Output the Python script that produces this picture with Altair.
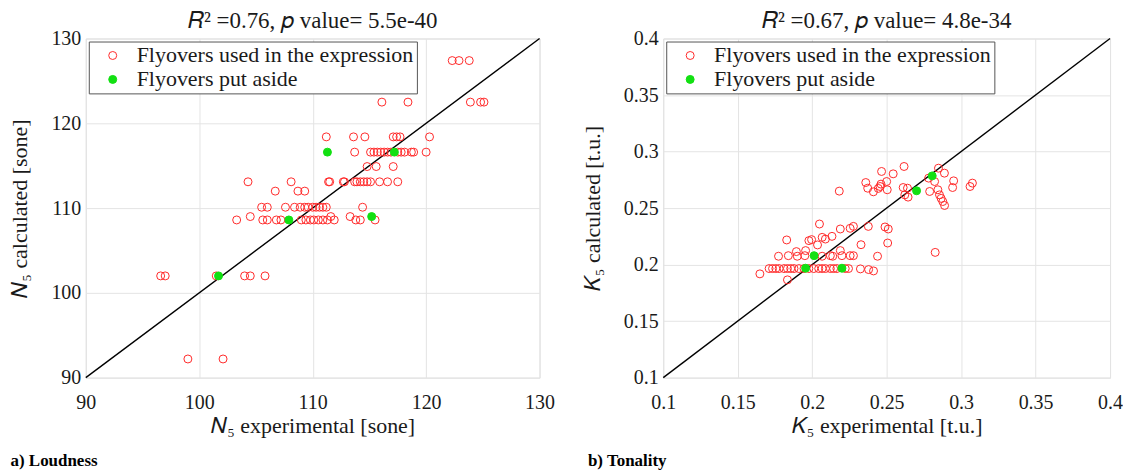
import altair as alt
import pandas as pd

FONT = "Liberation Serif"
LEG_USED = "Flyovers used in the expression"
LEG_ASIDE = "Flyovers put aside"

# ---------------- a) Loudness ----------------
loud_used_exp = [
    122.3, 122.9, 123.8,
    116.1, 118.4, 123.9, 124.8, 125.1,
    111.2, 113.6, 114.6, 117.1, 117.4, 117.7, 120.3,
    113.7, 115.1, 115.4, 115.7, 116.0, 116.3, 116.6, 116.9, 117.5, 117.8, 118.1, 118.7, 118.9, 120.0,
    114.8, 115.6, 117.1,
    104.3, 108.1, 111.4, 111.5, 112.7, 112.8, 113.7, 113.9, 114.2, 114.5, 114.8, 115.1, 115.9, 116.6, 117.5,
    106.7, 108.7, 109.3,
    105.5, 106.0, 107.6, 108.4, 108.9, 109.3, 109.6, 110.0, 110.3, 110.6, 110.9, 111.2, 114.4,
    103.3, 105.6, 106.0, 106.8, 107.2, 109.0, 109.4, 109.8, 110.1, 110.5, 110.9, 111.3, 111.9, 113.8, 114.2, 115.5,
    104.5, 111.6, 113.3,
    96.6, 97.0, 101.5, 104.0, 104.5, 105.8,
    99.0, 102.1,
]
loud_used_calc = (
    [127.4] * 3 + [122.5] * 5 + [118.4] * 7 + [116.6] * 14 + [114.9] * 3 + [113.1] * 15
    + [112.0] * 3 + [110.1] * 13 + [108.6] * 16 + [109.0] * 3 + [102.0] * 6 + [92.2] * 2
)
loud_aside_exp = [111.3, 117.2, 107.9, 115.2, 101.7]
loud_aside_calc = [116.6, 116.6, 108.6, 109.0, 102.0]
loud_ticks = [90, 100, 110, 120, 130]

# ---------------- b) Tonality ----------------
ton_used_exp = [
    0.2617, 0.2466, 0.2544, 0.2848, 0.2888, 0.2782, 0.2822, 0.2950, 0.2943, 0.3076, 0.3060,
    0.2360, 0.2373, 0.2411, 0.2444, 0.2462, 0.2500, 0.2456, 0.2504, 0.2182, 0.2611, 0.2640,
    0.2622, 0.2644, 0.2789, 0.2844, 0.2855, 0.2866, 0.2877, 0.2889, 0.2826,
    0.2049, 0.2189, 0.2255, 0.2277, 0.2377, 0.2489, 0.2511, 0.1829, 0.1978, 0.1996, 0.2067,
    0.2089, 0.2133, 0.2036, 0.2507, 0.2328, 0.1894, 0.1956, 0.1951, 0.1774, 0.1840, 0.1900,
    0.2067, 0.2122, 0.2138, 0.2189, 0.2200, 0.2255, 0.2277, 0.2439,
    0.1711, 0.1734, 0.1756, 0.1778, 0.1811, 0.1834, 0.1856, 0.1878, 0.1911, 0.1945,
    0.1978, 0.2011, 0.2044, 0.2067, 0.2089, 0.2122, 0.2144, 0.2166, 0.2222, 0.2244,
    0.2324, 0.2379, 0.2412, 0.1649, 0.1834,
]
ton_used_calc = [
    0.2868, 0.2824, 0.2803, 0.2853, 0.2809, 0.2765, 0.2735, 0.2741, 0.2682, 0.2721, 0.2691,
    0.2726, 0.2676, 0.2644, 0.2674, 0.2712, 0.2735, 0.2691, 0.2662, 0.2650, 0.2682, 0.2676,
    0.2617, 0.2597, 0.2647, 0.2662, 0.2617, 0.2586, 0.2558, 0.2523, 0.2108,
    0.2359, 0.2315, 0.2321, 0.2338, 0.2338, 0.2333, 0.2315, 0.2218, 0.2212, 0.2221, 0.2241,
    0.2226, 0.2250, 0.2174, 0.2191, 0.2176, 0.2115, 0.2124, 0.2079, 0.2074, 0.2079, 0.2074,
    0.2074, 0.2079, 0.2074, 0.2124, 0.2079, 0.2079, 0.2079, 0.2074,
] + [0.1965] * 20 + [0.1962, 0.1956, 0.1944, 0.1918, 0.1865]
ton_aside_exp = [0.2806, 0.2701, 0.2013, 0.1956, 0.2200]
ton_aside_calc = [0.2785, 0.2653, 0.2079, 0.1968, 0.1968]
ton_ticks = [0.1, 0.15, 0.2, 0.25, 0.3, 0.35, 0.4]

RED = "#ff2b2b"
GREEN = "#12e012"
TXT = "#1a1a1a"


def panel(used_x, used_y, aside_x, aside_y, lo, hi, ticks, fmt, xtitle, ytitle, title, caption, w, cap_dx):
    df = pd.DataFrame({
        "exp": used_x + aside_x,
        "calc": used_y + aside_y,
        "g": [LEG_USED] * len(used_x) + [LEG_ASIDE] * len(aside_x),
    })
    df["o"] = range(len(df))
    diag_df = pd.DataFrame({"exp": [lo, hi], "calc": [lo, hi]})

    sx = alt.Scale(domain=[lo, hi], nice=False, zero=False)
    sy = alt.Scale(domain=[lo, hi], nice=False, zero=False)
    ax_common = dict(
        values=ticks, format=fmt, labelFont=FONT, labelFontSize=20, labelColor=TXT,
        titleFont=FONT, titleFontSize=22, titleFontWeight="normal", titleColor=TXT,
        grid=True, gridColor="#e4e4e4", ticks=False, domain=False, labelFlush=False,
    )
    xax = alt.Axis(title=xtitle, labelPadding=15, titlePadding=3, **ax_common)
    yax = alt.Axis(title=ytitle, labelPadding=5, titlePadding=19, **ax_common)

    leg = alt.Legend(
        title=None, orient="top-left", offset=3, fillColor="white", strokeColor="#555",
        padding=3, rowPadding=2, symbolType="circle", symbolSize=64, symbolStrokeWidth=1,
        symbolOffset=10, labelOffset=13, labelFont=FONT, labelFontSize=22, labelColor=TXT,
        labelLimit=500,
    )
    dom = [LEG_USED, LEG_ASIDE]

    diag = alt.Chart(diag_df).mark_line(color="black", strokeWidth=1.4).encode(
        x=alt.X("exp:Q", scale=sx, axis=xax),
        y=alt.Y("calc:Q", scale=sy, axis=yax),
    )
    pts = alt.Chart(df).mark_point(shape="circle", size=64, strokeWidth=1, opacity=1).encode(
        x=alt.X("exp:Q", scale=sx, axis=xax),
        y=alt.Y("calc:Q", scale=sy, axis=yax),
        stroke=alt.Stroke("g:N", scale=alt.Scale(domain=dom, range=[RED, GREEN]), legend=leg),
        fill=alt.Fill("g:N", scale=alt.Scale(domain=dom, range=["transparent", GREEN]), legend=leg),
        order=alt.Order("o:Q"),
    )
    layer = alt.layer(diag, pts).properties(
        width=w, height=340,
        title=alt.TitleParams(title, font=FONT, fontSize=23, fontWeight="normal", color=TXT,
                              offset=-4, frame="group"),
    )
    return alt.vconcat(layer).properties(
        title=alt.TitleParams(caption, orient="bottom", anchor="start", font=FONT, fontSize=17,
                              fontWeight="bold", color="black", offset=16, dx=cap_dx)
    ).resolve_scale(stroke="independent", fill="independent").resolve_legend(
        stroke="independent", fill="independent")


left = panel(loud_used_exp, loud_used_calc, loud_aside_exp, loud_aside_calc, 90, 130, loud_ticks, "d",
             "𝑁₅ experimental [sone]", "𝑁₅ calculated [sone]",
             "𝑅² =0.76, 𝑝 value= 5.5e-40", "a) Loudness", 455, 2)
right = panel(ton_used_exp, ton_used_calc, ton_aside_exp, ton_aside_calc, 0.1, 0.4, ton_ticks, "~g",
              "𝐾₅ experimental [t.u.]", "𝐾₅ calculated [t.u.]",
              "𝑅² =0.67, 𝑝 value= 4.8e-34", "b) Tonality", 448, 7)

chart = alt.hconcat(left, right, spacing=25).resolve_scale(
    stroke="independent", fill="independent").resolve_legend(
    stroke="independent", fill="independent").configure_view(
    stroke="#555", strokeWidth=1).configure(background="white", padding=0)

chart.save("out.html", embed_options={"renderer": "svg", "actions": False})
